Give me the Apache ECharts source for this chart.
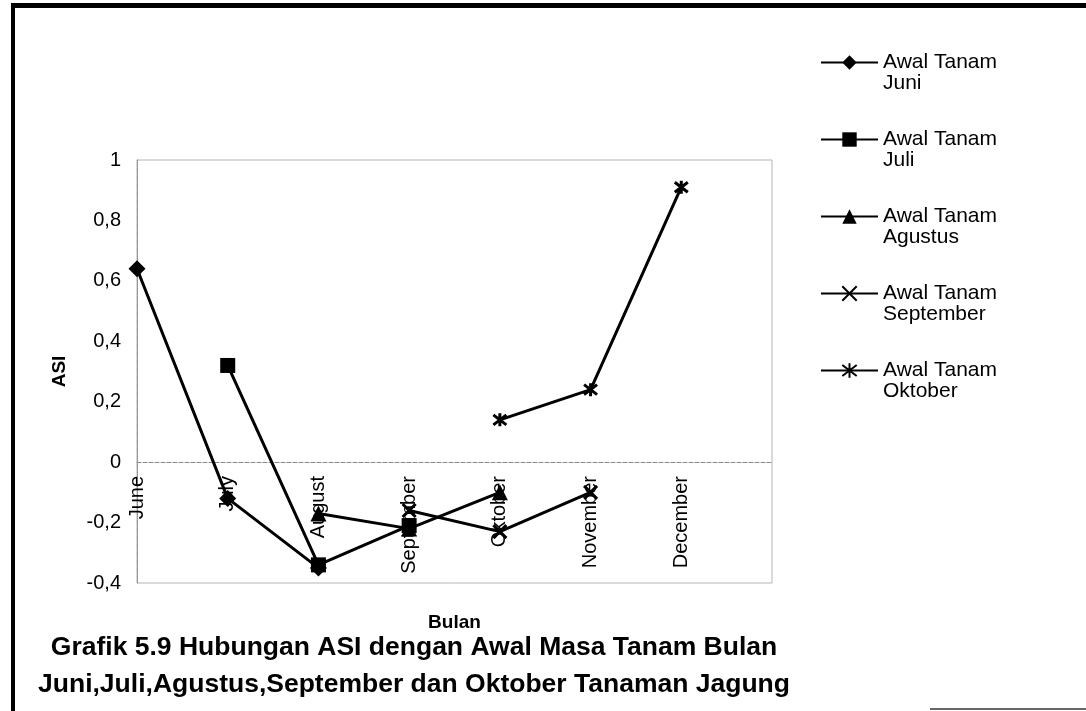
<!DOCTYPE html>
<html>
<head>
<meta charset="utf-8">
<script src="https://cdn.jsdelivr.net/npm/echarts@6/dist/echarts.min.js"></script>
<style>
html,body{margin:0;padding:0;background:#fff;}
#chart{width:1086px;height:711px;}
</style>
</head>
<body>
<div id="chart"></div>
<script>
var categories = ['June', 'July', 'August', 'September', 'Oktober', 'November', 'December', ''];
var seriesNames = ['Awal Tanam Juni', 'Awal Tanam Juli', 'Awal Tanam Agustus', 'Awal Tanam September', 'Awal Tanam Oktober'];
var tanamJuni = [0.64, -0.12, -0.35, null, null, null, null, null];
var tanamJuli = [null, 0.32, -0.34, -0.21, null, null, null, null];
var tanamAgustus = [null, null, -0.17, -0.22, -0.10, null, null, null];
var tanamSeptember = [null, null, null, -0.16, -0.23, -0.10, null, null];
var tanamOktober = [null, null, null, null, 0.14, 0.24, 0.91, null];
var yTicks = { min: -0.4, max: 1, interval: 0.2 };
var titleLines = ['Grafik 5.9 Hubungan ASI dengan Awal Masa Tanam Bulan', 'Juni,Juli,Agustus,September dan Oktober Tanaman Jagung'];

var FONT = "'Liberation Sans', Arial, sans-serif";
var xPath = 'path://M0,0L10,10M10,0L0,10';
var starPath = 'path://M0,0L10,10M10,0L0,10M5,-1.5L5,11.5';

function mkSeries(name, data, symbol, size, stroked) {
  return {
    name: name,
    type: 'line',
    data: data,
    connectNulls: false,
    symbol: symbol,
    symbolSize: size,
    showAllSymbol: true,
    lineStyle: { color: '#000', width: 3 },
    itemStyle: stroked ? { color: '#000', borderColor: '#000', borderWidth: 3 } : { color: '#000', borderWidth: 0 },
    emphasis: { disabled: true },
    animation: false,
    z: 3
  };
}

var chart = echarts.init(document.getElementById('chart'), null, { renderer: 'canvas' });
chart.setOption({
  backgroundColor: '#fff',
  animation: false,
  textStyle: { fontFamily: FONT },
  title: {
    text: titleLines.join('\n'),
    left: 409,
    top: 624,
    textAlign: 'center',
    textStyle: { fontFamily: FONT, fontSize: 26.5, fontWeight: 'bold', color: '#000', lineHeight: 37 }
  },
  grid: {
    left: 137, top: 160, right: 314, bottom: 128,
    containLabel: false,
    outerBoundsMode: 'none',
    show: true, borderColor: '#b5b5b5', borderWidth: 1, backgroundColor: 'transparent'
  },
  legend: {
    orient: 'vertical',
    left: 820,
    top: 31,
    padding: 0,
    itemWidth: 57,
    itemHeight: 18,
    itemGap: 14,
    selectedMode: false,
    formatter: function (n) { return ' \n' + n.replace('Awal Tanam ', 'Awal Tanam\n'); },
    lineStyle: { width: 2 },
    textStyle: { fontFamily: FONT, fontSize: 21, color: '#000', lineHeight: 21 },
    data: seriesNames
  },
  xAxis: {
    type: 'category',
    data: categories,
    boundaryGap: false,
    name: 'Bulan',
    nameLocation: 'middle',
    nameGap: 151,
    offset: -121,
    nameTextStyle: { fontFamily: FONT, fontSize: 19, fontWeight: 'bold', color: '#000' },
    axisLine: { onZero: false, lineStyle: { color: '#888', type: 'dashed', width: 1 } },
    axisTick: { show: false },
    axisLabel: { rotate: 90, margin: 14, fontFamily: FONT, fontSize: 20, color: '#000', interval: 0 },
    splitLine: { show: false }
  },
  yAxis: {
    type: 'value',
    min: yTicks.min, max: yTicks.max, interval: yTicks.interval,
    name: 'ASI',
    nameLocation: 'middle',
    nameGap: 68,
    nameTextStyle: { fontFamily: FONT, fontSize: 19, fontWeight: 'bold', color: '#000' },
    axisLine: { show: true, lineStyle: { color: '#888', type: 'dotted', width: 1 } },
    axisTick: { show: false },
    axisLabel: {
      margin: 16, fontFamily: FONT, fontSize: 20, color: '#000',
      formatter: function (v) { return String(Math.round(v * 10) / 10).replace('.', ','); }
    },
    splitLine: { show: false }
  },
  graphic: [
    { type: 'rect', shape: { x: 11, y: 3, width: 4, height: 708 }, style: { fill: '#000' }, silent: true },
    { type: 'rect', shape: { x: 11, y: 3, width: 1075, height: 5 }, style: { fill: '#000' }, silent: true },
    { type: 'rect', shape: { x: 930, y: 708, width: 156, height: 2 }, style: { fill: '#666' }, silent: true }
  ],
  series: [
    mkSeries(seriesNames[0], tanamJuni, 'diamond', 17, false),
    mkSeries(seriesNames[1], tanamJuli, 'rect', 15, false),
    mkSeries(seriesNames[2], tanamAgustus, 'triangle', 16, false),
    mkSeries(seriesNames[3], tanamSeptember, xPath, 13, true),
    mkSeries(seriesNames[4], tanamOktober, starPath, 13, true)
  ]
});
</script>
</body>
</html>
